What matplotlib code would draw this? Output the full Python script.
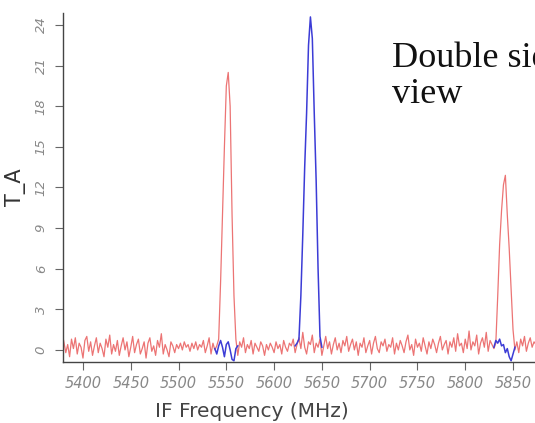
import numpy as np
import matplotlib.pyplot as plt

# channel grid of the spectrum (start frequency and channel width, MHz)
freq_start = 5378.0
chan_width = 2.0

# T_A of the full double-sideband spectrum (red)
red_ta = [
    1.3, 0.6, -0.2, 0.4, -0.5, 0.8, 0.1, 0.9, -0.3, 0.5,
    0.2, -0.6, 0.7, 1.0, -0.1, 0.6, -0.4, 0.3, 0.9, -0.2,
    0.5, 0.1, -0.5, 0.8, 0.2, 1.1, -0.3, 0.4, -0.1, 0.7,
    -0.4, 0.3, 0.9, 0.0, 0.6, -0.5, 0.2, 1.0, -0.2, 0.4,
    0.8, -0.3, 0.1, 0.6, -0.6, 0.5, 0.9, -0.1, 0.3, -0.4,
    0.7, 0.2, 1.2, -0.3, 0.4, 0.0, -0.5, 0.6, 0.3, -0.2,
    0.4, 0.1, 0.5, 0.0, 0.6, 0.2, 0.4, -0.1, 0.5, 0.1,
    0.6, 0.0, 0.4, 0.2, 0.7, -0.2, 0.3, 0.9, -0.3, 0.5,
    0.0, 0.3, 0.8, 5.0, 10.0, 15.0, 19.5, 20.5, 18.0, 10.0,
    4.0, 0.8, -0.4, 0.6, 0.2, 0.9, -0.2, 0.4, 0.1, 0.7,
    -0.3, 0.5, 0.2, -0.1, 0.6, 0.3, -0.4, 0.4, 0.0, 0.5,
    0.2, -0.2, 0.6, 0.1, 0.4, -0.3, 0.7, 0.2, -0.1, 0.5,
    0.3, 0.8, -0.2, 0.4, 0.9, 0.1, 1.3, 0.2, -0.3, 0.6,
    0.4, 1.1, -0.2, 0.5, 0.2, 0.8, -0.4, 0.3, 1.0, 0.1,
    0.6, -0.3, 0.4, 0.9, 0.0, 0.5, -0.2, 0.7, 0.3, 1.0,
    -0.1, 0.4, 0.8, 0.0, 0.6, -0.4, 0.5, 0.2, 0.9, -0.2,
    0.3, 0.7, -0.3, 0.5, 1.0, 0.1, -0.2, 0.6, 0.3, 0.8,
    -0.1, 0.4, 0.2, 0.9, -0.3, 0.5, 0.0, 0.7, 0.3, -0.2,
    0.6, 1.1, 0.0, 0.4, -0.4, 0.8, 0.2, 0.5, -0.1, 0.9,
    0.3, -0.3, 0.6, 0.1, 0.8, 0.4, -0.2, 0.5, 1.0, 0.0,
    0.4, 0.7, -0.3, 0.6, 0.2, 0.9, -0.1, 1.2, 0.3, 0.5,
    -0.2, 0.8, 0.1, 1.4, 0.0, 0.6, 0.3, 1.1, -0.3, 0.5,
    0.9, 0.2, 1.3, -0.1, 0.7, 0.4, 0.1, 0.5, 4.0, 7.8,
    10.3, 12.2, 12.9, 10.0, 7.5, 4.5, 1.5, 0.0, 0.6, -0.2,
    0.8, 0.3, 1.0, -0.1, 0.5, 0.9, 0.2, 0.6, 0.4,
]

# blue windows: (first channel frequency, T_A values)
blue_a_start = 5538.0
blue_a_ta = [0.1, -0.3, 0.3, 0.7, 0.2, -0.5, 0.4, 0.6, 0.0, -0.7, -0.8, 0.1, 0.3]
blue_b_start = 5622.0
blue_b_ta = [0.3, 0.5, 0.8, 4.0, 8.5, 13.5, 17.5, 22.5, 24.6, 23.0, 17.5, 12.5,
             6.0, 1.0, 0.2]
blue_c_start = 5830.0
blue_c_ta = [0.2, 0.7, 0.5, 0.8, 0.3, 0.4, -0.2, 0.1, -0.5, -0.8, -0.3, 0.2]

x_ticks = [5400, 5450, 5500, 5550, 5600, 5650, 5700, 5750, 5800, 5850]
y_ticks = [0, 3, 6, 9, 12, 15, 18, 21, 24]


def channels(start, values):
    return start + chan_width * np.arange(len(values))


fig = plt.figure(figsize=(5.35, 4.23), dpi=100)
ax = fig.add_axes([63 / 535, 61 / 423, 472 / 535, 349 / 423])

red = '#ec7474'
blue = '#3c3cd6'
ax.plot(channels(freq_start, red_ta), red_ta, color=red, lw=0.9)
for start, vals in [(blue_a_start, blue_a_ta), (blue_b_start, blue_b_ta),
                    (blue_c_start, blue_c_ta)]:
    ax.plot(channels(start, vals), vals, color=blue, lw=1.1)

ax.set_xlim(5379.1, 5873.0)
ax.set_ylim(-0.89, 24.89)

ax.set_xticks(x_ticks)
ax.set_yticks(y_ticks)
ax.set_xticklabels([str(v) for v in x_ticks], fontstyle='italic',
                   fontsize=10.5, color='#888888')
ax.set_yticklabels([str(v) for v in y_ticks], fontstyle='italic',
                   fontsize=9.5, color='#888888', rotation=90, va='center')
ax.tick_params(axis='both', length=6, width=0.8, color='#666666')
ax.tick_params(axis='x', pad=4)
ax.tick_params(axis='y', pad=5)

for side in ['top', 'right']:
    ax.spines[side].set_visible(False)
for side in ['left', 'bottom']:
    ax.spines[side].set_color('#444444')
    ax.spines[side].set_linewidth(1.0)

ax.set_xlabel('IF Frequency (MHz)', fontsize=14.5, color='#444444')
ax.xaxis.set_label_coords((252 - 63) / 472, -0.115)
ax.set_ylabel('T_A', fontsize=15, color='#333333')
ax.yaxis.set_label_coords(-0.078, 0.5)

fig.text(392 / 535, 1 - 67 / 423, 'Double sideband', family='Liberation Serif',
         fontsize=26, color='#111111', va='baseline', ha='left')
fig.text(392 / 535, 1 - 103 / 423, 'view', family='Liberation Serif',
         fontsize=26, color='#111111', va='baseline', ha='left')

fig.savefig('out.png', dpi=100, facecolor='white')
